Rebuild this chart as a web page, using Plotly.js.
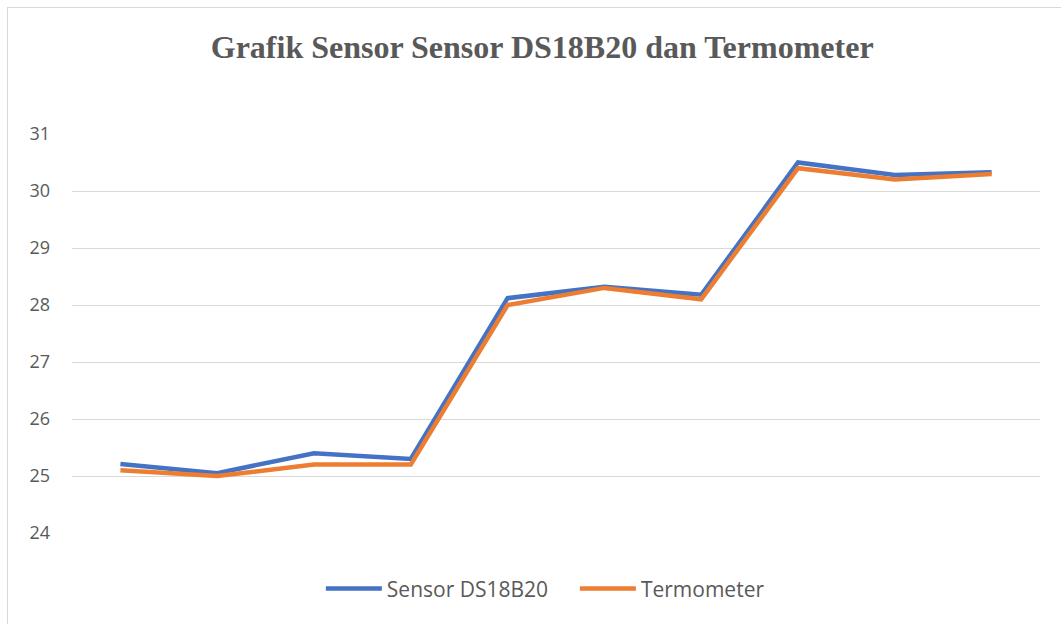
<!DOCTYPE html>
<html>
<head>
<meta charset="utf-8">
<script src="https://cdn.plot.ly/plotly-3.0.1.min.js"></script>
<style>
html,body{margin:0;padding:0;background:#fff;overflow:hidden;width:1061px;height:624px;}
#chart{position:absolute;left:0;top:0;width:1061px;height:624px;}
#frame{position:absolute;left:7px;top:7px;width:1054px;height:617px;border-left:1.5px solid #d9d9d9;border-top:1.5px solid #d9d9d9;pointer-events:none;box-sizing:border-box;}
</style>
</head>
<body>
<div id="chart"></div>
<div id="frame"></div>
<script>
var categories = ["1","2","3","4","5","6","7","8","9","10"];
var sensorDS18B20 = [25.21, 25.05, 25.40, 25.30, 28.12, 28.32, 28.18, 30.50, 30.28, 30.33];
var termometer = [25.10, 25.00, 25.20, 25.20, 28.00, 28.30, 28.10, 30.40, 30.20, 30.30];
var yTicks = [24, 25, 26, 27, 28, 29, 30, 31];
var seriesNames = ["Sensor DS18B20", "Termometer"];

var traces = [
  {x: categories, y: sensorDS18B20, name: seriesNames[0] + "&nbsp;&nbsp;&nbsp;&nbsp;", type: "scatter", mode: "lines",
   line: {color: "#4472C4", width: 4.5}},
  {x: categories, y: termometer, name: seriesNames[1], type: "scatter", mode: "lines",
   line: {color: "#ED7D31", width: 4.5}}
];

var layout = {
  width: 1061, height: 624,
  margin: {l: 72, r: 21, t: 134, b: 91},
  paper_bgcolor: "#fff", plot_bgcolor: "#fff",
  title: {text: "<b>Grafik Sensor Sensor DS18B20 dan Termometer</b>",
    font: {family: "Liberation Serif, Times New Roman, serif", size: 32, color: "#595959"},
    x: 0.511, xanchor: "center", y: 0.925, yanchor: "middle"},
  xaxis: {type: "category", range: [-0.5, 9.5], showticklabels: false, showgrid: false,
    zeroline: false, showline: false, ticks: ""},
  yaxis: {range: [24, 31], tickvals: yTicks, ticktext: yTicks.map(String),
    showgrid: true, gridcolor: "#d9d9d9", gridwidth: 1, zeroline: false, showline: false,
    ticks: "", ticklabelstandoff: 21,
    tickfont: {family: "Open Sans, Liberation Sans, sans-serif", size: 18, color: "#595959"}},
  showlegend: true,
  legend: {orientation: "h", x: 0.489, xanchor: "center", y: -0.14, yanchor: "middle",
    font: {family: "Open Sans, Liberation Sans, sans-serif", size: 21, color: "#595959"},
    itemwidth: 56, tracegroupgap: 0}
};

Plotly.newPlot("chart", traces, layout, {displayModeBar: false, staticPlot: true});
</script>
</body>
</html>
